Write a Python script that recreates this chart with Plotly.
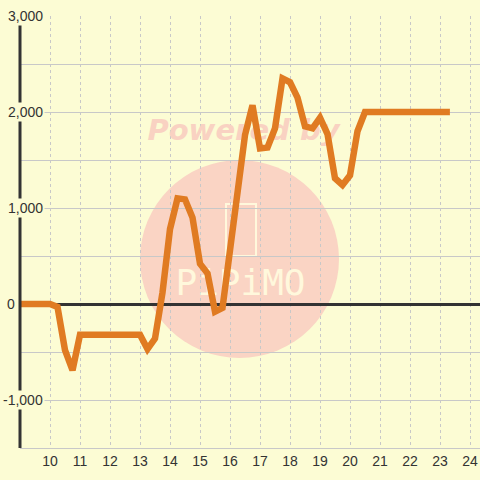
import plotly.graph_objects as go

# ---- data ----
hours = [9 + 0.25 * i for i in range(58)] + [23.33]  # 15-min samples
values = [
    0, 0, 0, 0,            # 9.00-9.75
    0, -30, -480, -690,    # 10.00-10.75
    -320, -320, -320, -320,  # 11
    -320, -320, -320, -320,  # 12
    -320, -470, -360, 120,   # 13
    780, 1100, 1090, 900,    # 14
    420, 320, -80, -40,      # 15
    600, 1120, 1760, 2070,   # 16
    1620, 1630, 1830, 2350,  # 17
    2310, 2150, 1850, 1830,  # 18
    1940, 1770, 1310, 1240,  # 19
    1340, 1800, 2000, 2000,  # 20
    2000, 2000, 2000, 2000,  # 21
    2000, 2000, 2000, 2000,  # 22
    2000, 2000, 2000,        # 23
]
x_ticks = list(range(10, 25))
x_tick_labels = [str(t) for t in x_ticks]
y_label_vals = [3000, 2000, 1000, 0, -1000]
y_label_text = ["3,000", "2,000", "1,000", "0", "-1,000"]

BG = "#FCFCD4"
GRID = "#C8C8C8"
FONT = "Liberation Sans, Arial, sans-serif"
CREAM = "#FFF8DC"

W, H = 480, 480
L, R, T, B = 20, 0, 16, 32
PW, PH = W - L - R, H - T - B


def px(xp):
    return (xp - L) / PW


def py(yp):
    return (H - B - yp) / PH


fig = go.Figure()

# watermark text (decoration), drawn beneath the data line
fig.add_trace(go.Scatter(
    x=[16.45], y=[1780], mode="text", text=["<b><i>Powered by</i></b>"],
    textfont=dict(family="DejaVu Sans", size=29, color="#F9D2C2"),
    hoverinfo="skip", showlegend=False))
fig.add_trace(go.Scatter(
    x=[16.35], y=[190], mode="text", text=["PiPiMO"],
    textfont=dict(family="DejaVu Sans Mono", size=36, color=CREAM),
    hoverinfo="skip", showlegend=False))

fig.add_trace(go.Scatter(
    x=hours, y=values, mode="lines",
    line=dict(color="#E07B22", width=6.5),
    hoverinfo="skip", showlegend=False))

shapes = [
    dict(type="circle", xref="paper", yref="paper",
         x0=px(140), x1=px(339), y0=py(358), y1=py(160),
         fillcolor="#FAD4C4", line=dict(width=0), layer="below"),
    dict(type="rect", xref="paper", yref="paper",
         x0=px(226), x1=px(256), y0=py(256), y1=py(204),
         fillcolor="rgba(0,0,0,0)", line=dict(color=CREAM, width=2),
         layer="below"),
    # y axis line
    dict(type="line", xref="paper", yref="paper",
         x0=0, x1=0, y0=0, y1=1,
         line=dict(color="#333333", width=3), layer="above"),
]

annotations = []
for v, t in zip(y_label_vals, y_label_text):
    xr = 45 if t != "0" else 17
    annotations.append(dict(
        x=px(xr), y=v, xref="paper", yref="y", text=t, showarrow=False,
        xanchor="right", yanchor="middle", bgcolor=BG, borderpad=1,
        font=dict(family=FONT, size=14, color="#333333")))

fig.update_layout(
    width=W, height=H, autosize=False,
    margin=dict(l=L, r=R, t=T, b=B, pad=0),
    paper_bgcolor=BG, plot_bgcolor=BG,
    shapes=shapes, annotations=annotations,
    xaxis=dict(range=[9, 9 + PW / 30], tickvals=x_ticks, ticktext=x_tick_labels,
               showgrid=True, gridcolor=GRID, griddash="3px,3px", gridwidth=1,
               zeroline=False, showline=True, linecolor=GRID, linewidth=1,
               ticks="", tickfont=dict(family=FONT, size=14, color="#333333"),
               automargin=False, fixedrange=True),
    yaxis=dict(range=[-1500, 3000], dtick=500, tick0=0,
               showgrid=True, gridcolor=GRID, gridwidth=1,
               zeroline=True, zerolinecolor="#333333", zerolinewidth=3,
               showticklabels=False, ticks="", showline=False,
               automargin=False, fixedrange=True),
)

fig.write_html(
    "out.html",
    config={"displayModeBar": False},
    post_script="document.body.style.margin='0';document.body.style.overflow='hidden';",
)
